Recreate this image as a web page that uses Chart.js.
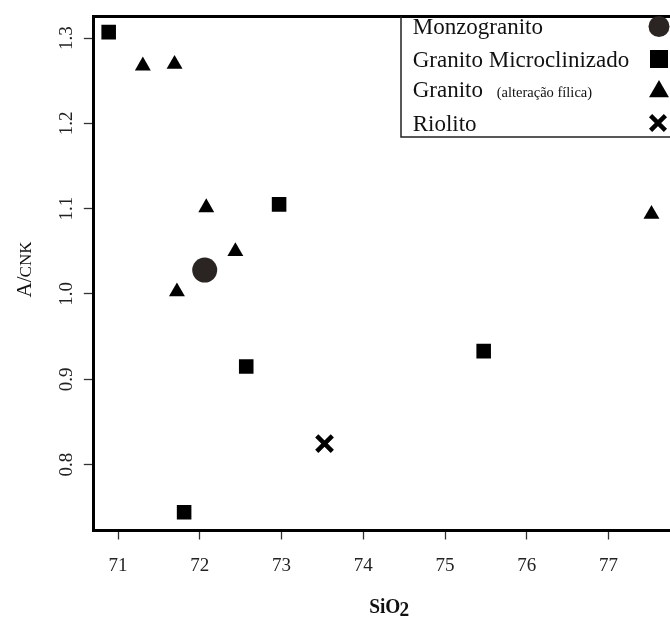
<!DOCTYPE html>
<html><head><meta charset="utf-8">
<style>
html,body{margin:0;padding:0;overflow:hidden;background:#fff;width:670px;height:619px}
#wrap{position:absolute;left:0;top:0;width:700px;height:619px}
canvas{display:block}
</style>
<script src="https://cdn.jsdelivr.net/npm/chart.js@4.4.1/dist/chart.umd.min.js"></script>
</head><body>
<div id="wrap"><canvas id="c" width="700" height="619"></canvas></div>
<script>
// ---- data ----
const xTicks = [71, 72, 73, 74, 75, 76, 77];
const yTicks = [0.8, 0.9, 1.0, 1.1, 1.2, 1.3];
const seriesNames = ['Monzogranito', 'Granito Microclinizado', 'Granito', 'Riolito'];
const monzoX = [72.06];
const monzoY = [1.028];
const microX = [70.885, 72.97, 72.568, 71.808, 75.473];
const microY = [1.307, 1.105, 0.915, 0.744, 0.933];
const alterX = [71.303, 71.691, 72.079, 72.435, 71.72, 77.526];
const alterY = [1.2675, 1.2695, 1.1013, 1.0499, 1.0027, 1.0935];
const rioX = [73.526];
const rioY = [0.8246];

const F = "'Liberation Serif','Times New Roman',serif";
const pts = (xs, ys) => xs.map((x, i) => ({x: x, y: ys[i]}));

function marker(ctx, style, x, y, r) {
  ctx.beginPath();
  if (style === 'circle') {
    ctx.arc(x, y, r, 0, Math.PI * 2); ctx.fill();
  } else if (style === 'rect') {
    const s = r * Math.SQRT1_2; ctx.rect(x - s, y - s, 2 * s, 2 * s); ctx.fill();
  } else if (style === 'triangle') {
    for (let k = 0; k < 3; k++) {
      const a = k * 2 * Math.PI / 3;
      const px = x + Math.sin(a) * r, py = y - Math.cos(a) * r;
      k ? ctx.lineTo(px, py) : ctx.moveTo(px, py);
    }
    ctx.closePath(); ctx.fill();
  } else if (style === 'crossRot') {
    const o = Math.cos(Math.PI / 4) * r;
    ctx.moveTo(x - o, y - o); ctx.lineTo(x + o, y + o);
    ctx.moveTo(x - o, y + o); ctx.lineTo(x + o, y - o); ctx.stroke();
  }
}

const deco = {
  id: 'deco',
  afterDraw(chart) {
    const ctx = chart.ctx, a = chart.chartArea;
    ctx.save();
    // top frame line
    ctx.strokeStyle = '#000'; ctx.lineWidth = 3;
    ctx.beginPath(); ctx.moveTo(a.left - 1.5, a.top); ctx.lineTo(a.right, a.top); ctx.stroke();
    // legend box
    const lx = 401, lb = 137;
    ctx.lineWidth = 1.5; ctx.strokeStyle = '#222';
    ctx.beginPath(); ctx.moveTo(lx, a.top); ctx.lineTo(lx, lb); ctx.lineTo(a.right, lb); ctx.stroke();
    const base = [34, 66.7, 96.7, 130.7];
    const tx = 412.7;
    ctx.fillStyle = '#111'; ctx.textBaseline = 'alphabetic'; ctx.textAlign = 'left';
    ctx.font = '23px ' + F;
    ctx.fillText(seriesNames[0], tx, base[0]);
    ctx.fillText(seriesNames[1], tx, base[1]);
    ctx.fillText(seriesNames[2], tx, base[2]);
    const gw = ctx.measureText(seriesNames[2] + ' ').width;
    ctx.fillText(seriesNames[3], tx, base[3]);
    ctx.font = '14.5px ' + F;
    ctx.fillText('(alteração fílica)', tx + gw + 8, base[2]);
    // legend markers
    const mx = 658;
    ctx.fillStyle = '#2a2523'; marker(ctx, 'circle', mx + 1, 26.5, 10.5);
    ctx.fillStyle = '#000'; marker(ctx, 'rect', mx + 1, 59, 12.7);
    marker(ctx, 'triangle', mx + 1, 91.5, 11.5);
    ctx.strokeStyle = '#000'; ctx.lineWidth = 4.5; marker(ctx, 'crossRot', mx, 123, 10.5);
    // x title SiO2
    ctx.fillStyle = '#111'; ctx.textBaseline = 'alphabetic';
    ctx.font = 'bold 22px ' + F;
    const cx = (a.left + a.right) / 2;
    const w1 = ctx.measureText('SiO').width, w2 = ctx.measureText('2').width;
    ctx.save();
    ctx.translate(cx, 613);
    ctx.scale(0.88, 1);
    const sx = -(w1 + w2 - 1) / 2;
    ctx.fillText('SiO', sx, 0);
    ctx.fillText('2', sx + w1 - 1, 3);
    ctx.restore();
    // y title A/CNK
    ctx.save();
    ctx.translate(31, 269);
    ctx.rotate(-Math.PI / 2);
    ctx.font = '21px ' + F;
    const a1 = ctx.measureText('A/').width;
    ctx.font = '17px ' + F;
    const a2 = ctx.measureText('CNK').width;
    const st = -(a1 + a2) / 2;
    ctx.font = '21px ' + F;
    ctx.fillText('A/', st, 0);
    ctx.font = '17px ' + F;
    ctx.fillText('CNK', st + a1 - 1, 0);
    ctx.restore();
    ctx.restore();
  }
};

new Chart(document.getElementById('c'), {
  type: 'scatter',
  data: {
    datasets: [
      {label: seriesNames[0], data: pts(monzoX, monzoY), pointStyle: 'circle', pointRadius: 12.5,
       backgroundColor: '#2a2523', borderColor: '#2a2523', borderWidth: 0},
      {label: seriesNames[1], data: pts(microX, microY), pointStyle: 'rect', pointRadius: 10.3,
       backgroundColor: '#000', borderColor: '#000', borderWidth: 0},
      {label: seriesNames[2], data: pts(alterX, alterY), pointStyle: 'triangle', pointRadius: 9.2,
       backgroundColor: '#000', borderColor: '#000', borderWidth: 0},
      {label: seriesNames[3], data: pts(rioX, rioY), pointStyle: 'crossRot', pointRadius: 11,
       backgroundColor: '#000', borderColor: '#000', borderWidth: 4.5}
    ]
  },
  options: {
    responsive: false,
    animation: false,
    events: [],
    layout: {padding: {top: 11, left: 0, right: 10, bottom: 0}},
    plugins: {legend: {display: false}, tooltip: {enabled: false}},
    scales: {
      x: {
        type: 'linear', min: 70.703, max: 77.93,
        afterBuildTicks: s => { s.ticks = xTicks.map(v => ({value: v})); },
        afterFit: s => { s.height = 88.5; },
        ticks: {font: {family: F, size: 19}, color: '#222', padding: 15, callback: v => String(v)},
        grid: {display: true, drawOnChartArea: false, drawTicks: true, tickLength: 9, tickWidth: 1.3, tickColor: '#333'},
        border: {display: true, color: '#000', width: 3}
      },
      y: {
        type: 'linear', min: 0.7227, max: 1.3254,
        afterBuildTicks: s => { s.ticks = yTicks.map(v => ({value: v})); },
        afterFit: s => { s.width = 93.8; },
        ticks: {font: {family: F, size: 19}, color: '#222', padding: 5, minRotation: 90, maxRotation: 90,
                crossAlign: 'center', callback: v => Number(v).toFixed(1)},
        grid: {display: true, drawOnChartArea: false, drawTicks: true, tickLength: 10, tickWidth: 1.3, tickColor: '#333'},
        border: {display: true, color: '#000', width: 3}
      }
    }
  },
  plugins: [deco]
});
</script>
</body></html>
